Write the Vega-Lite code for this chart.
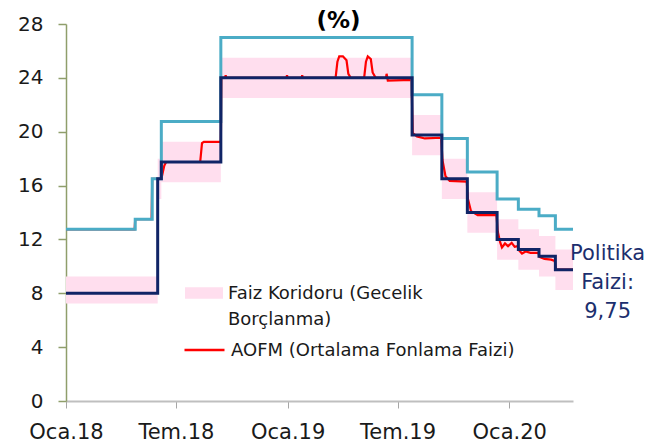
{
  "$schema": "https://vega.github.io/schema/vega-lite/v6.json",
  "width": 507,
  "height": 377,
  "autosize": {"type": "none"},
  "padding": {"left": 66, "top": 24, "right": 91, "bottom": 46},
  "background": "white",
  "config": {
    "font": "DejaVu Sans",
    "view": {"stroke": null},
    "axis": {"labelFont": "DejaVu Sans"},
    "legend": {"labelFont": "DejaVu Sans"}
  },
  "title": {
    "text": "(%)",
    "fontSize": 23,
    "fontWeight": "bold",
    "font": "DejaVu Sans",
    "color": "#000000",
    "anchor": "middle",
    "frame": "group",
    "baseline": "alphabetic",
    "offset": -6,
    "dx": 19,
    "dy": 31
  },
  "encoding": {
    "x": {
      "field": "date",
      "type": "temporal",
      "scale": {
        "type": "utc",
        "domain": [
          {"year": 2018, "month": 1, "date": 1, "utc": true},
          {"year": 2020, "month": 4, "date": 15, "utc": true}
        ]
      },
      "axis": {
        "title": null,
        "grid": false,
        "values": [
          {"year": 2018, "month": 1, "date": 1, "utc": true},
          {"year": 2018, "month": 7, "date": 1, "utc": true},
          {"year": 2019, "month": 1, "date": 1, "utc": true},
          {"year": 2019, "month": 7, "date": 1, "utc": true},
          {"year": 2020, "month": 1, "date": 1, "utc": true}
        ],
        "labelExpr": "(utcmonth(datum.value) == 0 ? 'Oca.' : 'Tem.') + utcFormat(datum.value, '%y')",
        "labelFlush": false,
        "labelOverlap": false,
        "labelFontSize": 21,
        "labelColor": "#1a1a1a",
        "labelPadding": 13,
        "domainColor": "#bfbfbf",
        "domainWidth": 2,
        "tickColor": "#a6a6a6",
        "tickWidth": 1,
        "tickSize": 7
      }
    },
    "y": {
      "field": "value",
      "type": "quantitative",
      "scale": {"domain": [0, 28], "nice": false, "zero": false},
      "axis": {
        "title": null,
        "grid": false,
        "values": [0, 4, 8, 12, 16, 20, 24, 28],
        "labelFontSize": 20,
        "labelColor": "#1a1a1a",
        "labelPadding": 15,
        "domainColor": "#8f9e6b",
        "domainWidth": 1.5,
        "tickColor": "#8f9e6b",
        "tickWidth": 1.5,
        "tickSize": 8
      }
    }
  },
  "layer": [
    {
      "data": {
        "values": [
          {"date": "2018-01-01", "value": 7.25, "hi": 9.25},
          {"date": "2018-06-01", "value": 15, "hi": 18},
          {"date": "2018-06-07", "value": 16.25, "hi": 19.25},
          {"date": "2018-09-13", "value": 22.5, "hi": 25.5},
          {"date": "2019-07-25", "value": 18.25, "hi": 21.25},
          {"date": "2019-09-12", "value": 15, "hi": 18},
          {"date": "2019-10-24", "value": 12.5, "hi": 15.5},
          {"date": "2019-12-12", "value": 10.5, "hi": 13.5},
          {"date": "2020-01-16", "value": 9.75, "hi": 12.75},
          {"date": "2020-02-19", "value": 9.25, "hi": 12.25},
          {"date": "2020-03-17", "value": 8.25, "hi": 11.25},
          {"date": "2020-04-15", "value": 8.25, "hi": 11.25}
        ],
        "format": {"parse": {"date": "utc:'%Y-%m-%d'"}}
      },
      "mark": {"type": "area", "interpolate": "step-after"},
      "encoding": {
        "y2": {"field": "hi"},
        "fill": {
          "datum": "Faiz Koridoru (Gecelik Borçlanma)",
          "type": "nominal",
          "scale": {"range": ["#ffdeee"]},
          "legend": {
            "orient": "none",
            "legendX": 119,
            "legendY": 261,
            "title": null,
            "padding": 0,
            "symbolType": "M-1,-0.3H1V0.3H-1Z",
            "symbolSize": 1444,
            "symbolStrokeWidth": 0,
            "symbolOpacity": 1,
            "labelFontSize": 18,
            "labelLimit": 500,
            "labelOffset": 5,
            "labelColor": "#1a1a1a",
            "labelExpr": "['Faiz Koridoru (Gecelik', 'Borçlanma)']",
            "encode": {
              "labels": {"update": {"lineHeight": {"value": 26}, "baseline": {"value": "top"}, "y": {"value": 0}}},
              "symbols": {"update": {"y": {"value": 8}}}
            }
          }
        }
      }
    },
    {
      "data": {
        "values": [
          {"date": "2018-01-01", "value": 12.75},
          {"date": "2018-04-24", "value": 12.75},
          {"date": "2018-04-25", "value": 13.5},
          {"date": "2018-05-22", "value": 13.5},
          {"date": "2018-05-23", "value": 16.5},
          {"date": "2018-06-07", "value": 16.5},
          {"date": "2018-06-09", "value": 16.9},
          {"date": "2018-06-12", "value": 17.5},
          {"date": "2018-06-15", "value": 17.75},
          {"date": "2018-08-10", "value": 17.75},
          {"date": "2018-08-13", "value": 19.15},
          {"date": "2018-08-16", "value": 19.25},
          {"date": "2018-09-13", "value": 19.25},
          {"date": "2018-09-14", "value": 24.0},
          {"date": "2018-09-20", "value": 24.0},
          {"date": "2018-09-21", "value": 24.2},
          {"date": "2018-09-22", "value": 24.0},
          {"date": "2018-12-30", "value": 24.0},
          {"date": "2018-12-31", "value": 24.2},
          {"date": "2019-01-01", "value": 24.0},
          {"date": "2019-01-24", "value": 24.0},
          {"date": "2019-01-25", "value": 24.2},
          {"date": "2019-01-26", "value": 24.0},
          {"date": "2019-03-21", "value": 24.0},
          {"date": "2019-03-24", "value": 25.2},
          {"date": "2019-03-27", "value": 25.6},
          {"date": "2019-04-02", "value": 25.6},
          {"date": "2019-04-08", "value": 25.3},
          {"date": "2019-04-11", "value": 24.3},
          {"date": "2019-04-15", "value": 24.0},
          {"date": "2019-05-07", "value": 24.0},
          {"date": "2019-05-10", "value": 25.2},
          {"date": "2019-05-13", "value": 25.6},
          {"date": "2019-05-18", "value": 25.4},
          {"date": "2019-05-21", "value": 24.4},
          {"date": "2019-05-26", "value": 24.0},
          {"date": "2019-06-12", "value": 24.0},
          {"date": "2019-06-13", "value": 24.3},
          {"date": "2019-06-15", "value": 23.8},
          {"date": "2019-07-24", "value": 23.85},
          {"date": "2019-07-26", "value": 19.9},
          {"date": "2019-08-02", "value": 19.65},
          {"date": "2019-08-15", "value": 19.5},
          {"date": "2019-09-11", "value": 19.55},
          {"date": "2019-09-13", "value": 17.9},
          {"date": "2019-09-18", "value": 16.7},
          {"date": "2019-09-25", "value": 16.35},
          {"date": "2019-10-23", "value": 16.3},
          {"date": "2019-10-25", "value": 15.0},
          {"date": "2019-10-30", "value": 14.1},
          {"date": "2019-11-10", "value": 13.8},
          {"date": "2019-12-11", "value": 13.8},
          {"date": "2019-12-13", "value": 12.6},
          {"date": "2019-12-17", "value": 11.8},
          {"date": "2019-12-20", "value": 11.4},
          {"date": "2019-12-25", "value": 11.7},
          {"date": "2019-12-30", "value": 11.5},
          {"date": "2020-01-05", "value": 11.75},
          {"date": "2020-01-10", "value": 11.45},
          {"date": "2020-01-15", "value": 11.5},
          {"date": "2020-01-17", "value": 11.2},
          {"date": "2020-01-22", "value": 10.95},
          {"date": "2020-01-28", "value": 11.1},
          {"date": "2020-02-05", "value": 11.0},
          {"date": "2020-02-18", "value": 11.0},
          {"date": "2020-02-20", "value": 10.7},
          {"date": "2020-02-28", "value": 10.55},
          {"date": "2020-03-10", "value": 10.5},
          {"date": "2020-03-16", "value": 10.4},
          {"date": "2020-03-18", "value": 9.75},
          {"date": "2020-04-15", "value": 9.75}
        ],
        "format": {"parse": {"date": "utc:'%Y-%m-%d'"}}
      },
      "mark": {"type": "line", "strokeWidth": 2.2},
      "encoding": {
        "stroke": {
          "datum": "AOFM (Ortalama Fonlama Faizi)",
          "type": "nominal",
          "scale": {"range": ["#ff0000"]},
          "legend": {
            "orient": "none",
            "legendX": 117,
            "legendY": 318,
            "title": null,
            "padding": 0,
            "symbolType": "stroke",
            "symbolSize": 1600,
            "symbolStrokeWidth": 2.5,
            "labelFontSize": 18,
            "labelLimit": 500,
            "labelOffset": 5,
            "labelColor": "#1a1a1a",
            "encode": {
              "labels": {"update": {"baseline": {"value": "top"}, "y": {"value": 0}}},
              "symbols": {"update": {"y": {"value": 8}}}
            }
          }
        }
      }
    },
    {
      "data": {
        "values": [
          {"date": "2018-01-01", "value": 12.75},
          {"date": "2018-04-25", "value": 13.5},
          {"date": "2018-05-23", "value": 16.5},
          {"date": "2018-06-07", "value": 20.75},
          {"date": "2018-09-13", "value": 27},
          {"date": "2019-07-25", "value": 22.75},
          {"date": "2019-09-12", "value": 19.5},
          {"date": "2019-10-24", "value": 17},
          {"date": "2019-12-12", "value": 15},
          {"date": "2020-01-16", "value": 14.25},
          {"date": "2020-02-19", "value": 13.75},
          {"date": "2020-03-17", "value": 12.75},
          {"date": "2020-04-15", "value": 12.75}
        ],
        "format": {"parse": {"date": "utc:'%Y-%m-%d'"}}
      },
      "mark": {"type": "line", "interpolate": "step-after", "stroke": "#4bacc6", "strokeWidth": 3}
    },
    {
      "data": {
        "values": [
          {"date": "2018-01-01", "value": 8},
          {"date": "2018-06-01", "value": 16.5},
          {"date": "2018-06-07", "value": 17.75},
          {"date": "2018-09-13", "value": 24},
          {"date": "2019-07-25", "value": 19.75},
          {"date": "2019-09-12", "value": 16.5},
          {"date": "2019-10-24", "value": 14},
          {"date": "2019-12-12", "value": 12},
          {"date": "2020-01-16", "value": 11.25},
          {"date": "2020-02-19", "value": 10.75},
          {"date": "2020-03-17", "value": 9.75},
          {"date": "2020-04-15", "value": 9.75}
        ],
        "format": {"parse": {"date": "utc:'%Y-%m-%d'"}}
      },
      "mark": {"type": "line", "interpolate": "step-after", "stroke": "#102466", "strokeWidth": 3}
    },
    {
      "data": {
        "values": [
          {"date": "2020-06-11", "value": 11.7, "t": "Politika\nFaizi:\n9,75"}
        ],
        "format": {"parse": {"date": "utc:'%Y-%m-%d'"}}
      },
      "mark": {"type": "text", "align": "center", "baseline": "top", "fontSize": 21, "lineHeight": 29, "lineBreak": "\n", "color": "#1c2f6e", "font": "DejaVu Sans"},
      "encoding": {"text": {"field": "t"}}
    }
  ]
}
